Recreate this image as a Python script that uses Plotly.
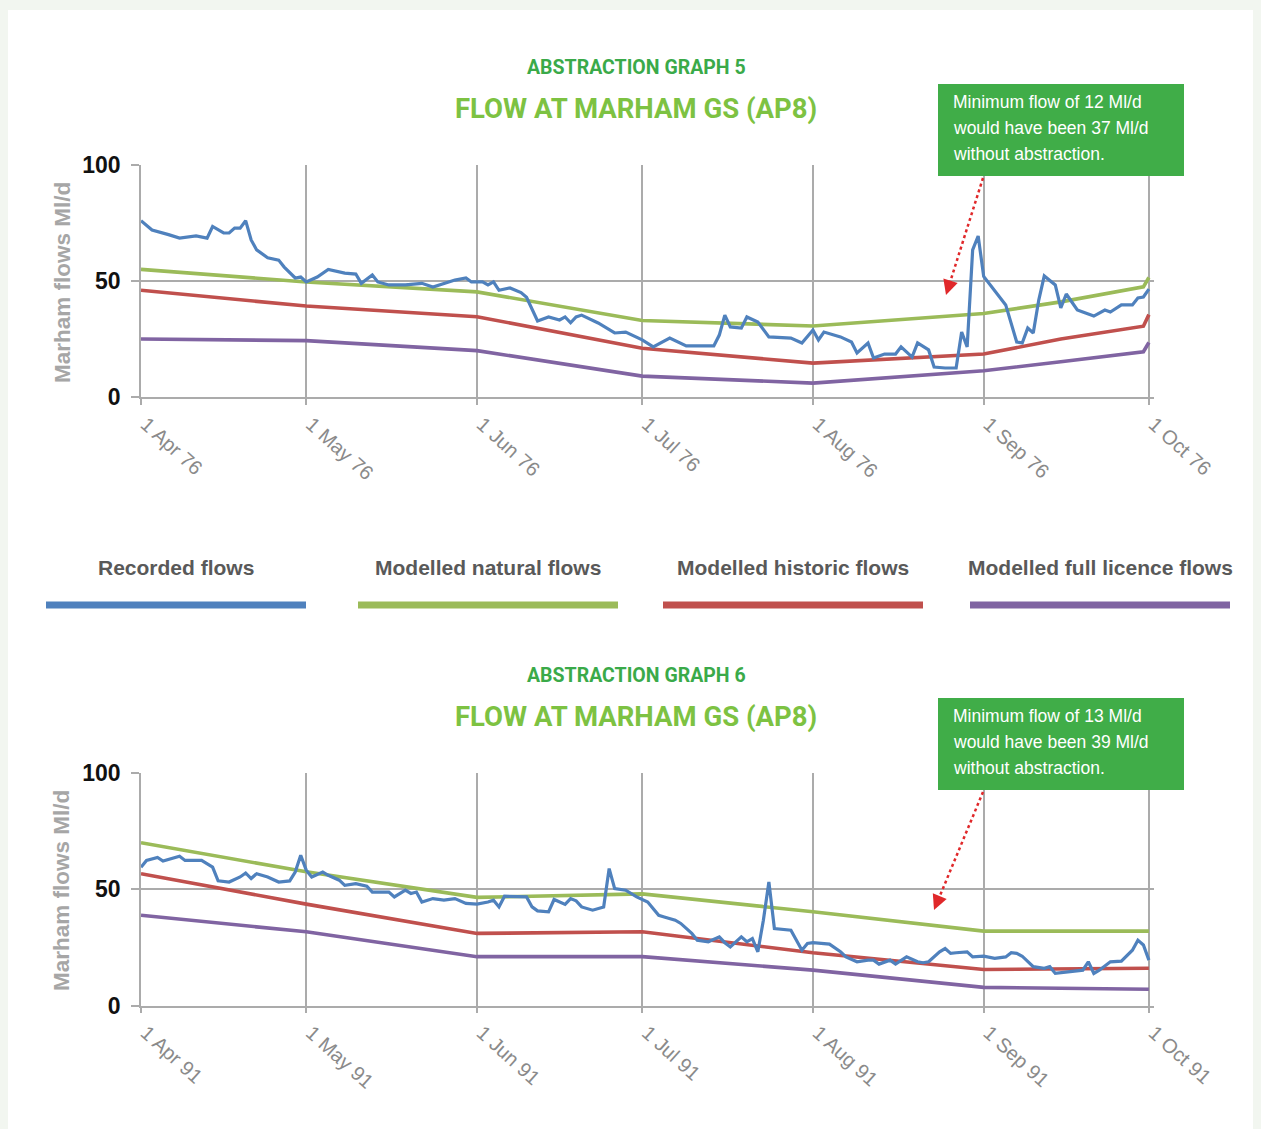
import plotly.graph_objects as go

W, H = 1261, 1129

# ---------------- data: 1976 ----------------
rec76_dates = [
    "1976-04-01", "1976-04-03", "1976-04-06", "1976-04-08", "1976-04-11", "1976-04-13", "1976-04-14",
    "1976-04-16", "1976-04-17", "1976-04-18", "1976-04-19", "1976-04-20", "1976-04-21", "1976-04-22",
    "1976-04-24", "1976-04-26", "1976-04-27", "1976-04-29", "1976-04-30",
    "1976-05-01", "1976-05-03", "1976-05-05", "1976-05-08", "1976-05-10", "1976-05-11", "1976-05-13",
    "1976-05-14", "1976-05-16", "1976-05-19", "1976-05-22", "1976-05-24", "1976-05-26", "1976-05-28",
    "1976-05-30", "1976-05-31",
    "1976-06-02", "1976-06-03", "1976-06-04", "1976-06-05", "1976-06-07", "1976-06-09", "1976-06-10",
    "1976-06-11", "1976-06-12", "1976-06-14", "1976-06-16", "1976-06-17", "1976-06-18", "1976-06-19",
    "1976-06-20", "1976-06-23", "1976-06-26", "1976-06-28",
    "1976-07-01", "1976-07-03", "1976-07-06", "1976-07-09", "1976-07-14", "1976-07-15", "1976-07-16",
    "1976-07-17", "1976-07-19", "1976-07-20", "1976-07-22", "1976-07-24", "1976-07-28", "1976-07-30",
    "1976-08-01", "1976-08-02", "1976-08-03", "1976-08-06", "1976-08-08", "1976-08-09", "1976-08-11",
    "1976-08-12", "1976-08-14", "1976-08-16", "1976-08-17", "1976-08-19", "1976-08-20", "1976-08-22",
    "1976-08-23", "1976-08-25", "1976-08-27", "1976-08-28", "1976-08-29", "1976-08-30", "1976-08-31",
    "1976-09-01", "1976-09-03", "1976-09-05", "1976-09-07", "1976-09-08", "1976-09-09", "1976-09-10",
    "1976-09-11", "1976-09-12", "1976-09-14", "1976-09-15", "1976-09-16", "1976-09-18", "1976-09-19",
    "1976-09-21", "1976-09-23", "1976-09-24", "1976-09-26", "1976-09-28", "1976-09-29", "1976-09-30",
    "1976-10-01",
]
rec76_vals = [
    76, 72, 70, 68.5, 69.4, 68.5, 73.5, 70.7, 70.7, 72.8, 72.8, 76, 67.7, 63.4, 60, 59, 56, 51.3, 51.7,
    49.6, 51.7, 55, 53.4, 53, 49, 52.6, 49.6, 48.3, 48.3, 49, 47.4, 49, 50.4, 51.3, 49.6,
    49.6, 48.3, 49.6, 46, 47, 45, 43, 37.5, 32.8, 34.5, 33.2, 34.5, 32, 34.5, 35.3, 31.9, 27.6, 28,
    24.6, 21.6, 25.4, 22, 22, 26.7, 35.3, 30.2, 29.7, 34.5, 32.3, 25.9, 25.4, 23.3,
    28.9, 24.6, 28, 25.9, 23.7, 19, 23.3, 16.8, 18.5, 18.5, 21.6, 17.2, 23.3, 20.3, 12.9, 12.5, 12.5,
    28, 21.6, 63.4, 69.4,
    52, 46, 39.7, 23.7, 23.3, 29.7, 27.6, 41.8, 52.2, 48.3, 38.4, 44.4, 37.5, 36.6, 34.9, 37.5, 36.6,
    39.7, 39.7, 42.7, 43.1,
    46.5,
]
model76_dates = ["1976-04-01", "1976-05-01", "1976-06-01", "1976-07-01", "1976-08-01",
                 "1976-09-01", "1976-09-15", "1976-09-30", "1976-10-01"]
natural76 = [55, 49.6, 45.3, 33, 30.6, 36, 41, 47.5, 51.5]
historic76 = [46, 39.2, 34.6, 21, 14.6, 18.5, 25, 30.5, 35.5]
licence76 = [25, 24.3, 20, 9, 6, 11.3, 15.2, 19.5, 23.5]

# ---------------- data: 1991 ----------------
rec91_dates = [
    "1991-04-01", "1991-04-02", "1991-04-04", "1991-04-05", "1991-04-08", "1991-04-09", "1991-04-12",
    "1991-04-14", "1991-04-15", "1991-04-17", "1991-04-19", "1991-04-20", "1991-04-21", "1991-04-22",
    "1991-04-24", "1991-04-26", "1991-04-28", "1991-04-29", "1991-04-30",
    "1991-05-01", "1991-05-02", "1991-05-04", "1991-05-05", "1991-05-07", "1991-05-08", "1991-05-10",
    "1991-05-12", "1991-05-13", "1991-05-16", "1991-05-17", "1991-05-19", "1991-05-20", "1991-05-21",
    "1991-05-22", "1991-05-24", "1991-05-26", "1991-05-28", "1991-05-30",
    "1991-06-01", "1991-06-03", "1991-06-04", "1991-06-05", "1991-06-06", "1991-06-08", "1991-06-10",
    "1991-06-11", "1991-06-12", "1991-06-14", "1991-06-15", "1991-06-17", "1991-06-18", "1991-06-19",
    "1991-06-20", "1991-06-22", "1991-06-24", "1991-06-25", "1991-06-26", "1991-06-28", "1991-06-30",
    "1991-07-02", "1991-07-04", "1991-07-05", "1991-07-07", "1991-07-08", "1991-07-10", "1991-07-11",
    "1991-07-13", "1991-07-15", "1991-07-16", "1991-07-17", "1991-07-19", "1991-07-20", "1991-07-21",
    "1991-07-22", "1991-07-23", "1991-07-24", "1991-07-25", "1991-07-28", "1991-07-30", "1991-07-31",
    "1991-08-01", "1991-08-04", "1991-08-06", "1991-08-07", "1991-08-09", "1991-08-11", "1991-08-12",
    "1991-08-13", "1991-08-15", "1991-08-16", "1991-08-18", "1991-08-20", "1991-08-21", "1991-08-22",
    "1991-08-24", "1991-08-25", "1991-08-26", "1991-08-27", "1991-08-29", "1991-08-30",
    "1991-09-01", "1991-09-03", "1991-09-05", "1991-09-06", "1991-09-07", "1991-09-08", "1991-09-10",
    "1991-09-12", "1991-09-13", "1991-09-14", "1991-09-16", "1991-09-19", "1991-09-20", "1991-09-21",
    "1991-09-22", "1991-09-24", "1991-09-26", "1991-09-28", "1991-09-29", "1991-09-30",
    "1991-10-01",
]
rec91_vals = [
    59.5, 62.4, 63.7, 62.1, 64.2, 62.4, 62.4, 59.5, 53.6, 53.1, 55.3, 57, 54.6, 56.7, 55.3, 53.1, 53.6,
    57.4, 64.6,
    58.2, 55.3, 57.4, 56, 53.9, 51.7, 52.4, 51.3, 48.8, 48.8, 46.7, 49.6, 48.2, 48.8, 44.5, 46, 45.3,
    46, 43.9,
    43.6, 44.5, 45.3, 42.4, 47, 47, 46.7, 42.4, 40.7, 40.3, 45.6, 43.5, 46, 45, 42.4, 41, 42.4, 58.9,
    50.3, 49.6, 46.7,
    44.5, 38.8, 38.1, 36.7, 35.3, 31, 28.1, 27.4, 29.5, 27, 25.2, 29.5, 27.4, 28.8, 23.1, 36.7, 53.1,
    33.1, 32.4, 23.8, 26.7,
    27, 26.4, 23.1, 20.9, 18.8, 19.5, 19.5, 17.8, 19.5, 17.8, 20.9, 18.8, 18.4, 18.8, 23.1, 24.5, 22.4,
    22.7, 23.1, 20.9,
    21.2, 20.3, 20.9, 22.7, 22.4, 21.2, 16.7, 16, 16.7, 13.8, 14.5, 15.2, 18.8, 13.8, 15.2, 18.8, 19.1,
    23.8, 28.1, 26,
    19.5,
]
model91_dates = ["1991-04-01", "1991-05-01", "1991-06-01", "1991-07-01", "1991-08-01",
                 "1991-09-01", "1991-10-01"]
natural91 = [70, 57.5, 46.5, 48, 40.3, 32, 32]
historic91 = [56.7, 43.6, 31, 31.7, 22.7, 15.5, 16]
licence91 = [38.8, 31.7, 21, 21, 15.2, 7.8, 7]

# ---------------- text ----------------
series_names = ["Recorded flows", "Modelled natural flows", "Modelled historic flows",
                "Modelled full licence flows"]
series_colors = ["#4F81BD", "#9BBB59", "#C0504D", "#8064A2"]
graph_labels = ["ABSTRACTION GRAPH 5", "ABSTRACTION GRAPH 6"]
graph_title = "FLOW AT MARHAM GS (AP8)"
note76 = ["Minimum flow of 12 Ml/d", "would have been 37 Ml/d", "without abstraction."]
note91 = ["Minimum flow of 13 Ml/d", "would have been 39 Ml/d", "without abstraction."]
y_title = "Marham flows Ml/d"

# ---------------- helpers for pixel layout ----------------
def px(x):
    return x / W


def py(y):
    return 1 - y / H


fig = go.Figure()

datasets = [
    (rec76_dates, rec76_vals, model76_dates, natural76, historic76, licence76, "x", "y"),
    (rec91_dates, rec91_vals, model91_dates, natural91, historic91, licence91, "x2", "y2"),
]
for rd, rv, md, nat, his, lic, xa, ya in datasets:
    for vals, col in [(lic, series_colors[3]), (his, series_colors[2]), (nat, series_colors[1])]:
        fig.add_trace(go.Scatter(x=md, y=vals, mode="lines", xaxis=xa, yaxis=ya,
                                 line=dict(color=col, width=3.6), showlegend=False,
                                 hoverinfo="x+y"))
    fig.add_trace(go.Scatter(x=rd, y=rv, mode="lines", xaxis=xa, yaxis=ya,
                             line=dict(color=series_colors[0], width=3.2), showlegend=False,
                             hoverinfo="x+y"))

grid_col = "#ababab"
xdom = [px(141), px(1153.5)]
common_x = dict(
    type="date", dtick="M1", tickformat="%-d %b %y", tickangle=42,
    showgrid=True, gridcolor=grid_col, gridwidth=1.6,
    showline=True, linecolor=grid_col, linewidth=1.6,
    ticks="outside", ticklen=6, tickcolor=grid_col, tickwidth=1.6,
    tickfont=dict(family="Liberation Sans, Arial, sans-serif", size=20, color="#8a8a8a"),
    ticklabelshift=5,
    domain=xdom, zeroline=False, automargin=False,
)
common_y = dict(
    range=[0, 100], tickvals=[0, 50, 100], showgrid=True, gridcolor=grid_col, gridwidth=1.6,
    showline=True, linecolor=grid_col, linewidth=1.6, zeroline=False,
    ticks="outside", ticklen=8, tickcolor=grid_col, tickwidth=1.6,
    tickfont=dict(family="Liberation Sans, Arial, sans-serif", size=23, color="#111111",
                  weight="bold"),
    ticklabelstandoff=6, automargin=False,
)

fig.update_layout(
    width=W, height=H,
    margin=dict(l=0, r=0, t=0, b=0, pad=0),
    paper_bgcolor="#f2f6f0",
    plot_bgcolor="rgba(0,0,0,0)",
    xaxis=dict(common_x, range=["1976-04-01", "1976-10-01 20:00"], tick0="1976-04-01",
               anchor="y"),
    yaxis=dict(common_y, domain=[py(397), py(165)], anchor="x"),
    xaxis2=dict(common_x, range=["1991-04-01", "1991-10-01 20:00"], tick0="1991-04-01",
                anchor="y2"),
    yaxis2=dict(common_y, domain=[py(1005.5), py(773)], anchor="x2"),
    hovermode="closest",
)

shapes = []
annotations = []

# white page panel
shapes.append(dict(type="rect", xref="paper", yref="paper", x0=px(8), x1=px(1253),
                   y0=0, y1=py(10), fillcolor="white", line=dict(width=0), layer="below"))

title_font = "Roboto, Liberation Sans Narrow, Arial Narrow, sans-serif"
body_font = "Liberation Sans, Arial, Helvetica, sans-serif"

panels = [
    dict(label=graph_labels[0], y_lab=68, y_tit=108, note=note76, box_top=84,
         arrow_from=(983, 178), arrow_to=(946, 295), ytitle_c=283),
    dict(label=graph_labels[1], y_lab=675, y_tit=716, note=note91, box_top=698,
         arrow_from=(983, 792), arrow_to=(934, 910), ytitle_c=891),
]
for p in panels:
    annotations.append(dict(xref="paper", yref="paper", x=px(636), y=py(p["y_lab"]),
                            xanchor="center", yanchor="middle", showarrow=False,
                            text="<b>" + p["label"] + "</b>",
                            font=dict(family=title_font, size=19.5, color="#3aaa49",
                                      weight="bold")))
    annotations.append(dict(xref="paper", yref="paper", x=px(636), y=py(p["y_tit"]),
                            xanchor="center", yanchor="middle", showarrow=False,
                            text="<b>" + graph_title + "</b>",
                            font=dict(family=title_font, size=27.5, color="#7dc242",
                                      weight="bold")))
    # y-axis title
    annotations.append(dict(xref="paper", yref="paper", x=px(62), y=py(p["ytitle_c"]),
                            xanchor="center", yanchor="middle", showarrow=False,
                            textangle=-90, text="<b>" + y_title + "</b>",
                            font=dict(family=body_font, size=22.5, color="#a6a6a6")))
    # green note box
    bt = p["box_top"]
    shapes.append(dict(type="rect", xref="paper", yref="paper", x0=px(938), x1=px(1184),
                       y0=py(bt + 92), y1=py(bt), fillcolor="#40ad48", line=dict(width=0)))
    for i, line in enumerate(p["note"]):
        annotations.append(dict(xref="paper", yref="paper", x=px(951), y=py(bt + 18 + 26 * i),
                                xanchor="left", yanchor="middle", showarrow=False, text=line,
                                font=dict(family=body_font, size=17.5, color="white")))
    # dotted red arrow
    (x0, y0), (x1, y1) = p["arrow_from"], p["arrow_to"]
    dx, dy = x1 - x0, y1 - y0
    L = (dx ** 2 + dy ** 2) ** 0.5
    ux, uy = dx / L, dy / L
    shapes.append(dict(type="line", xref="paper", yref="paper", x0=px(x0), y0=py(y0),
                       x1=px(x1 - ux * 12), y1=py(y1 - uy * 12),
                       line=dict(color="#e0282a", width=2.5, dash="dot")))
    annotations.append(dict(xref="paper", yref="paper", x=px(x1), y=py(y1),
                            ax=-ux * 14, ay=-uy * 14, axref="pixel", ayref="pixel",
                            showarrow=True, arrowhead=2, arrowsize=1.5, arrowwidth=2,
                            arrowcolor="#e0282a", text="", standoff=0))

# custom legend
legend_centres = [176, 488, 793, 1100]
for name, col, cx in zip(series_names, series_colors, legend_centres):
    annotations.append(dict(xref="paper", yref="paper", x=px(cx), y=py(567),
                            xanchor="center", yanchor="middle", showarrow=False,
                            text="<b>" + name + "</b>",
                            font=dict(family=body_font, size=21, color="#595959")))
    shapes.append(dict(type="line", xref="paper", yref="paper", x0=px(cx - 130), x1=px(cx + 130),
                       y0=py(605), y1=py(605), line=dict(color=col, width=7)))

fig.update_layout(shapes=shapes, annotations=annotations)

fig.write_html("out.html", config={"displayModeBar": False},
               post_script="document.body.style.margin='0';")
